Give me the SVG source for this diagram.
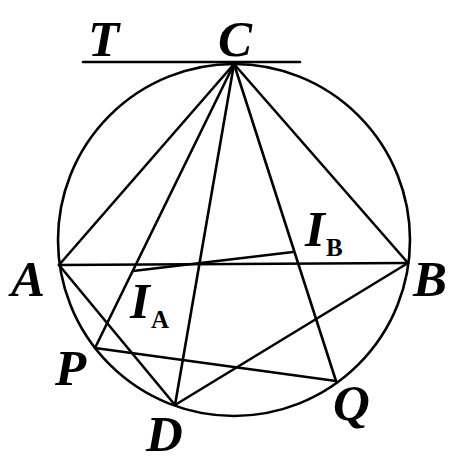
<svg xmlns="http://www.w3.org/2000/svg" width="467" height="461" viewBox="0 0 467 461">
<style>
.l{stroke:#000;stroke-width:2.6;fill:none;stroke-linecap:round}
.lb{font-family:"Liberation Serif",serif;font-style:italic;font-weight:bold;font-size:51px;fill:#000}
.sb{font-family:"Liberation Serif",serif;font-weight:bold;font-size:25px;fill:#000}
</style>
<rect width="467" height="461" fill="#fff"/>
<g id="connectors">
<circle class="l" cx="234" cy="240" r="176"/>
<line class="l" x1="83" y1="62" x2="300" y2="62"/>
<line class="l" x1="234" y1="64" x2="59" y2="265"/>
<line class="l" x1="234" y1="64" x2="408" y2="263"/>
<line class="l" x1="234" y1="64" x2="95" y2="348"/>
<line class="l" x1="234" y1="64" x2="175" y2="405"/>
<line class="l" x1="234" y1="64" x2="336" y2="381"/>
<line class="l" x1="59" y1="265" x2="408" y2="263"/>
<line class="l" x1="59" y1="265" x2="175" y2="405"/>
<line class="l" x1="95" y1="348" x2="336" y2="381"/>
<line class="l" x1="408" y1="263" x2="175" y2="405"/>
<line class="l" x1="133" y1="271" x2="293" y2="252"/>
</g>
<g id="T"><text class="lb" x="88" y="56">T</text></g>
<g id="C"><text class="lb" x="218" y="56">C</text></g>
<g id="A"><text class="lb" x="11" y="296">A</text></g>
<g id="B"><text class="lb" x="413" y="296">B</text></g>
<g id="P"><text class="lb" x="55" y="385">P</text></g>
<g id="D"><text class="lb" x="146" y="451">D</text></g>
<g id="Q"><text class="lb" x="333" y="420">Q</text></g>
<g id="IA"><text class="lb" x="130" y="318">I</text><text class="sb" x="151" y="328">A</text></g>
<g id="IB"><text class="lb" x="305" y="246">I</text><text class="sb" x="326" y="256">B</text></g>
</svg>
